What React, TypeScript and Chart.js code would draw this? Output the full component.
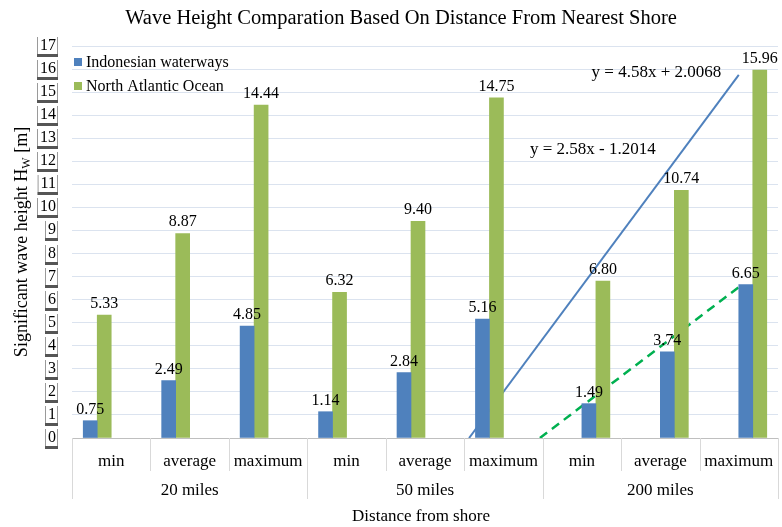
import { useEffect, useRef } from 'react';
import { Chart, registerables } from 'chart.js';

Chart.register(...registerables);

const chartTitle = 'Wave Height Comparation Based On Distance From Nearest Shore';
const xAxisTitle = 'Distance from shore';
const categories = ['min', 'average', 'maximum', 'min', 'average', 'maximum', 'min', 'average', 'maximum'];
const groups = ['20 miles', '50 miles', '200 miles'];
const seriesNames = ['Indonesian waterways', 'North Atlantic Ocean'];
const indonesian = [0.75, 2.49, 4.85, 1.14, 2.84, 5.16, 1.49, 3.74, 6.65];
const atlantic = [5.33, 8.87, 14.44, 6.32, 9.4, 14.75, 6.8, 10.74, 15.96];
const yTicks = [0, 1, 2, 3, 4, 5, 6, 7, 8, 9, 10, 11, 12, 13, 14, 15, 16, 17];
const trendEquations = ['y = 4.58x + 2.0068', 'y = 2.58x - 1.2014'];
const TREND_GROUP = '200 miles';

const BLUE = '#4f81bd';
const GREEN = '#9bbb59';
const TREND_GREEN = '#00b050';
const SERIF = "'Liberation Serif', 'Times New Roman', serif";

const groupOf = (i: number) => groups[Math.floor(i / 3)];
const trendStart = groups.indexOf(TREND_GROUP) * 3;

// Linear regression (Excel trendline) over x = 1..3 of the trend group,
// extended backwards to where it crosses zero.
function trendLine(values: number[]) {
  const ys = values.slice(trendStart, trendStart + 3);
  const xs = [1, 2, 3];
  const mx = 2;
  const my = (ys[0] + ys[1] + ys[2]) / 3;
  let num = 0;
  let den = 0;
  for (let k = 0; k < 3; k++) {
    num += (xs[k] - mx) * (ys[k] - my);
    den += (xs[k] - mx) * (xs[k] - mx);
  }
  const slope = num / den;
  const intercept = my - slope * mx;
  const xZero = -intercept / slope;
  const toIndex = (x: number) => trendStart + x - 1;
  return [
    { x: toIndex(xZero), y: 0 },
    { x: toIndex(3), y: slope * 3 + intercept },
  ];
}

const decor = {
  id: 'decor',
  afterDraw(chart: any) {
    const ctx: CanvasRenderingContext2D = chart.ctx;
    const xs = chart.scales.x;
    const ys = chart.scales.y;
    const area = chart.chartArea;
    const y0 = Math.round(ys.getPixelForValue(0));
    const step = xs.getPixelForValue(1) - xs.getPixelForValue(0);
    ctx.save();

    // x axis line
    ctx.strokeStyle = '#bfbfbf';
    ctx.lineWidth = 1;
    ctx.beginPath();
    ctx.moveTo(area.left, y0 + 0.5);
    ctx.lineTo(area.right, y0 + 0.5);
    ctx.stroke();

    // separators
    ctx.strokeStyle = '#d9d9d9';
    for (let b = 0; b <= categories.length; b++) {
      const x = Math.round(xs.getPixelForValue(0) - step / 2 + b * step) + 0.5;
      const len = b % 3 === 0 ? 61 : 33;
      ctx.beginPath();
      ctx.moveTo(x, y0);
      ctx.lineTo(x, y0 + len);
      ctx.stroke();
    }

    ctx.fillStyle = '#000';
    ctx.textAlign = 'center';
    ctx.textBaseline = 'alphabetic';
    ctx.font = `17px ${SERIF}`;
    categories.forEach((c, i) => {
      ctx.fillText(c, xs.getPixelForValue(i), y0 + 28);
    });
    groups.forEach((g, gi) => {
      const cx = (xs.getPixelForValue(gi * 3) + xs.getPixelForValue(gi * 3 + 2)) / 2;
      ctx.fillText(g, cx, y0 + 57);
    });
    ctx.fillText(xAxisTitle, (area.left + area.right) / 2 - 4, y0 + 83);

    // title
    ctx.font = `20.5px ${SERIF}`;
    ctx.fillText(chartTitle, 401, 24);

    // bar value labels
    ctx.font = `16px ${SERIF}`;
    for (let d = 0; d < 4; d++) {
      const meta = chart.getDatasetMeta(d);
      const data = chart.data.datasets[d].data;
      meta.data.forEach((el: any, i: number) => {
        const v = data[i];
        if (v === null || v === undefined) return;
        ctx.fillText(Number(v).toFixed(2), el.x, el.y - 7);
      });
    }

    // trend equations
    ctx.font = `17px ${SERIF}`;
    ctx.textBaseline = 'middle';
    ctx.fillText(trendEquations[0], xs.getPixelForValue(6.95), ys.getPixelForValue(15.85));
    ctx.fillText(trendEquations[1], xs.getPixelForValue(6.14), ys.getPixelForValue(12.5));

    // legend
    ctx.font = `16px ${SERIF}`;
    ctx.textAlign = 'left';
    const legendColors = [BLUE, GREEN];
    seriesNames.forEach((n, k) => {
      const cy = 62 + k * 24;
      ctx.fillStyle = legendColors[k];
      ctx.fillRect(74, cy - 4, 8, 8);
      ctx.fillStyle = '#000';
      ctx.fillText(n, 86, cy + 1);
    });

    // y tick labels in boxes
    ctx.font = `16px ${SERIF}`;
    ctx.textAlign = 'right';
    ctx.textBaseline = 'middle';
    yTicks.forEach((t) => {
      const cy = Math.round(ys.getPixelForValue(t));
      const label = String(t);
      const w = ctx.measureText(label).width;
      const right = 57;
      const left = right - w - 3;
      ctx.fillStyle = '#9a9a9a';
      ctx.fillRect(left - 1, cy - 9, right - left + 2, 20);
      ctx.fillStyle = '#555';
      ctx.fillRect(left - 1, cy + 8, right - left + 2, 3);
      ctx.fillStyle = '#fff';
      ctx.fillRect(left, cy - 9, right - left, 17);
      ctx.fillStyle = '#000';
      ctx.fillText(label, right - 1, cy);
    });

    // y axis title with subscript
    ctx.translate(21, (area.top + area.bottom) / 2);
    ctx.rotate(-Math.PI / 2);
    ctx.textAlign = 'left';
    ctx.textBaseline = 'alphabetic';
    const main = 'Significant wave height H';
    const tail = ' [m]';
    ctx.font = `18px ${SERIF}`;
    const w1 = ctx.measureText(main).width;
    const w3 = ctx.measureText(tail).width;
    ctx.font = `12px ${SERIF}`;
    const w2 = ctx.measureText('W').width;
    const total = w1 + w2 + w3;
    let x = -total / 2;
    ctx.font = `18px ${SERIF}`;
    ctx.fillText(main, x, 6);
    x += w1;
    ctx.font = `12px ${SERIF}`;
    ctx.fillText('W', x, 9);
    x += w2;
    ctx.font = `18px ${SERIF}`;
    ctx.fillText(tail, x, 6);

    ctx.restore();
  },
};

export default function App() {
  const ref = useRef<HTMLCanvasElement | null>(null);

  useEffect(() => {
    if (!ref.current) return;
    const early = (arr: number[]) => arr.map((v, i) => (groupOf(i) === TREND_GROUP ? null : v));
    const late = (arr: number[]) => arr.map((v, i) => (groupOf(i) === TREND_GROUP ? v : null));
    const barCommon = { borderWidth: 0, barThickness: 14 };

    const chart = new Chart(ref.current, {
      type: 'bar',
      data: {
        labels: categories,
        datasets: [
          { label: seriesNames[0], data: early(indonesian), backgroundColor: BLUE, ...barCommon },
          { label: seriesNames[1], data: early(atlantic), backgroundColor: GREEN, ...barCommon },
          { label: seriesNames[0] + ' ', data: late(indonesian), backgroundColor: BLUE, ...barCommon },
          { label: seriesNames[1] + ' ', data: late(atlantic), backgroundColor: GREEN, ...barCommon },
          {
            type: 'line',
            label: 'Trend North Atlantic',
            data: trendLine(atlantic),
            parsing: false,
            borderColor: BLUE,
            borderWidth: 2,
            pointRadius: 0,
            fill: false,
          } as any,
          {
            type: 'line',
            label: 'Trend Indonesian',
            data: trendLine(indonesian),
            parsing: false,
            borderColor: TREND_GREEN,
            borderWidth: 2.5,
            borderDash: [9, 6],
            pointRadius: 0,
            fill: false,
          } as any,
        ],
      },
      options: {
        animation: false,
        responsive: false,
        layout: { padding: { left: 72, right: 4, top: 46, bottom: 89 } },
        plugins: {
          legend: { display: false },
          title: { display: false },
          tooltip: { enabled: false },
        },
        scales: {
          x: { type: 'category', display: false, offset: true },
          y: {
            type: 'linear',
            min: 0,
            max: 17,
            ticks: { display: false, stepSize: 1 },
            grid: { color: '#dbe3ef', drawTicks: false, lineWidth: 1 },
            border: { display: false },
            afterFit: (s: any) => {
              s.width = 0;
            },
          },
        },
      },
      plugins: [decor],
    } as any);
    return () => chart.destroy();
  }, []);

  return (
    <div style={{ position: 'absolute', left: 0, top: 0, width: 782, height: 527, background: '#fff' }}>
      <canvas ref={ref} width={782} height={527} style={{ display: 'block' }} />
    </div>
  );
}
